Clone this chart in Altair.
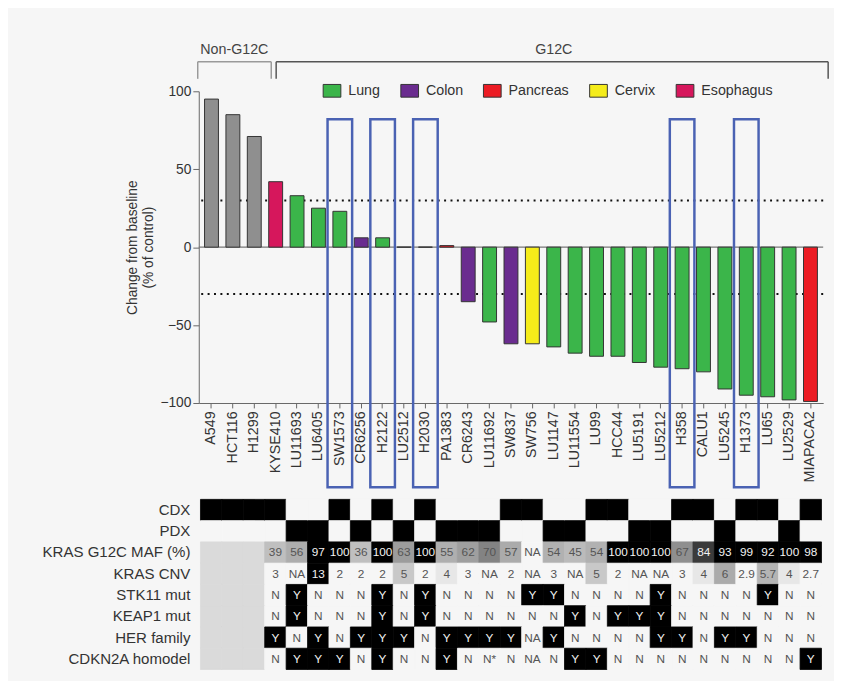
import altair as alt
import pandas as pd

FONT = "Liberation Sans"
BG = "#f6f6f6"

samples = ["A549", "HCT116", "H1299", "KYSE410", "LU11693", "LU6405", "SW1573", "CR6256",
           "H2122", "LU2512", "H2030", "PA1383", "CR6243", "LU11692", "SW837", "SW756",
           "LU1147", "LU11554", "LU99", "HCC44", "LU5191", "LU5212", "H358", "CALU1",
           "LU5245", "H1373", "LU65", "LU2529", "MIAPACA2"]
tissue = (["Non-G12C"] * 3 +
          ["Esophagus", "Lung", "Lung", "Lung", "Colon", "Lung", "Lung", "Lung", "Pancreas",
           "Colon", "Lung", "Colon", "Cervix"] +
          ["Lung"] * 12 + ["Pancreas"])
change = [95, 85, 71, 42, 33, 25, 23, 6, 6, 0, 0, 1, -35, -48, -62, -62, -64, -68, -70,
          -70, -74, -77, -78, -80, -91, -95, -96, -98, -99]
highlight = ["SW1573", "H2122", "H2030", "H358", "H1373"]

legend_tissues = ["Lung", "Colon", "Pancreas", "Cervix", "Esophagus"]
tissue_domain = legend_tissues + ["Non-G12C"]
tissue_colors = ["#3bb54a", "#6a2c8f", "#ec1c24", "#f5ec1a", "#d6175c", "#8f8f8f"]

# heatmap rows
row_labels = ["CDX", "PDX", "KRAS G12C MAF (%)", "KRAS CNV", "STK11 mut", "KEAP1 mut",
              "HER family", "CDKN2A homodel"]
cdx = [1, 1, 1, 1, 0, 0, 1, 0, 1, 0, 1, 0, 0, 0, 1, 1, 0, 0, 1, 1, 0, 0, 1, 1, 0, 1, 1, 0, 1]
pdx = [0, 0, 0, 0, 1, 1, 0, 1, 0, 1, 0, 1, 1, 1, 0, 0, 1, 1, 0, 0, 1, 1, 0, 0, 1, 0, 0, 1, 0]
# values for G12C samples (KYSE410 ... MIAPACA2)
maf = ["39", "56", "97", "100", "36", "100", "63", "100", "55", "62", "70", "57", "NA",
       "54", "45", "54", "100", "100", "100", "67", "84", "93", "99", "92", "100", "98"]
cnv = ["3", "NA", "13", "2", "2", "2", "5", "2", "4", "3", "NA", "2", "NA", "3", "NA", "5",
       "2", "NA", "NA", "3", "4", "6", "2.9", "5.7", "4", "2.7"]
stk11 = ["N", "Y", "N", "N", "N", "Y", "N", "Y", "N", "N", "N", "N", "Y", "Y", "N", "N",
         "N", "N", "Y", "N", "N", "N", "N", "Y", "N", "N"]
keap1 = ["N", "Y", "N", "N", "N", "Y", "N", "Y", "N", "N", "N", "N", "N", "N", "Y", "N",
         "Y", "Y", "Y", "N", "N", "N", "N", "N", "N", "N"]
her = ["Y", "N", "Y", "N", "Y", "Y", "Y", "N", "Y", "Y", "Y", "Y", "NA", "Y", "N", "N",
       "N", "N", "Y", "Y", "N", "Y", "Y", "N", "N", "N"]
cdkn2a = ["N", "Y", "Y", "Y", "N", "Y", "N", "N", "Y", "N", "N*", "N", "NA", "N", "Y", "Y",
          "N", "N", "N", "N", "N", "N", "N", "N", "N", "Y"]


def maf_level(s):
    if s == "NA":
        return 0.0
    v = float(s)
    t = max(0.0, (v - 30) / 62)
    return min(1.0, 0.2 + 0.8 * t ** 2.8)


def cnv_level(s):
    if s == "NA":
        return 0.0
    v = float(s)
    return min(1.0, max(0.0, (v - 3.5) / 9))


def yn_level(s):
    return 1.0 if s == "Y" else 0.0


records = []
for i, s in enumerate(samples):
    records.append({"sample": s, "row": "CDX", "level": float(cdx[i]), "label": ""})
    records.append({"sample": s, "row": "PDX", "level": float(pdx[i]), "label": ""})
n_non = 3
for row, vals, fn in [("KRAS G12C MAF (%)", maf, maf_level), ("KRAS CNV", cnv, cnv_level),
                      ("STK11 mut", stk11, yn_level), ("KEAP1 mut", keap1, yn_level),
                      ("HER family", her, yn_level), ("CDKN2A homodel", cdkn2a, yn_level)]:
    for i, s in enumerate(samples):
        if i < n_non:
            records.append({"sample": s, "row": row, "level": 0.1, "label": ""})
        else:
            v = vals[i - n_non]
            records.append({"sample": s, "row": row, "level": fn(v), "label": v})
hm = pd.DataFrame(records)

df = pd.DataFrame({"sample": samples, "tissue": tissue, "value": change})

W = 635
H = 317
Y_TITLE = ["Change from baseline", "(% of control)"]

x_axis = alt.Axis(title=None, labelAngle=-90, labelFontSize=14.5, labelFont=FONT,
                  labelColor="#333", tickColor="#666", domainColor="#666", tickSize=5,
                  labelPadding=3, orient="bottom")
x_enc = alt.X("sample:N", axis=x_axis,
              scale=alt.Scale(domain=samples, paddingInner=0.35, paddingOuter=0.27))
y_axis = alt.Axis(values=[-100, -50, 0, 50, 100], titleFontSize=14, titleFontWeight="normal",
                  titleFont=FONT, titleColor="#333", labelFontSize=14, labelFont=FONT,
                  labelColor="#333", tickSize=6, tickColor="#666", domainColor="#666",
                  grid=False, titlePadding=4, titleLineHeight=17)
y_enc = alt.Y("value:Q", title=Y_TITLE, axis=y_axis,
              scale=alt.Scale(domain=[-100, 100], nice=False, zero=False))

zero_rule = alt.Chart(pd.DataFrame({"value": [0]})).mark_rule(
    color="#777", strokeWidth=1.2).encode(y=y_enc)
dot_rules = alt.Chart(pd.DataFrame({"value": [30, -30]})).mark_rule(
    color="#111", strokeWidth=2, strokeDash=[2, 4.5]).encode(y=y_enc)

bars = alt.Chart(df).mark_bar(stroke="#333", strokeWidth=1).encode(
    x=x_enc, y=y_enc,
    fill=alt.Fill("tissue:N",
                  scale=alt.Scale(domain=tissue_domain, range=tissue_colors),
                  legend=alt.Legend(title=None, orient="none", legendX=126, legendY=-10,
                                    direction="horizontal", values=legend_tissues,
                                    symbolType="M-1,-0.72H1V0.72H-1Z", symbolSize=324,
                                    symbolStrokeColor="#333", symbolStrokeWidth=1,
                                    labelFontSize=14.5, labelFont=FONT, labelColor="#333",
                                    columnPadding=18, labelOffset=7, padding=0)))

boxes = alt.Chart(pd.DataFrame({"sample": highlight, "value": [82] * 5,
                                "value2": [-154] * 5})).mark_bar(
    width=25, fillOpacity=0, stroke="#4a62b3", strokeWidth=2.5).encode(
    x=x_enc, y=y_enc, y2="value2:Q")

# brackets (annotation)
BR_Y, BR_Y0, LAB_Y = 119, 108, 126.5


def hline(s1, s2, o1, o2, col):
    d = pd.DataFrame({"sample": [s1], "sample2": [s2], "value": [BR_Y]})
    return alt.Chart(d).mark_rule(color=col, strokeWidth=1.5, xOffset=o1, x2Offset=o2).encode(
        x=x_enc, x2="sample2:N", y=y_enc)


def vline(s, o, col):
    d = pd.DataFrame({"sample": [s], "value": [BR_Y0], "value2": [BR_Y]})
    return alt.Chart(d).mark_rule(color=col, strokeWidth=1.5, xOffset=o).encode(
        x=x_enc, y=y_enc, y2="value2:Q")


def label(s, txt, o):
    d = pd.DataFrame({"sample": [s], "value": [LAB_Y], "txt": [txt]})
    return alt.Chart(d).mark_text(font=FONT, fontSize=14.5, color="#444", xOffset=o).encode(
        x=x_enc, y=y_enc, text="txt:N")


NON_C, G_C = "#9a9a9a", "#555"
brackets = [
    hline("A549", "KYSE410", -14, -4.5, NON_C), vline("A549", -14, NON_C),
    vline("KYSE410", -4.5, NON_C),
    hline("KYSE410", "MIAPACA2", 0.5, 18, G_C), vline("KYSE410", 0.5, G_C),
    vline("MIAPACA2", 18, G_C),
    label("HCT116", "Non-G12C", 1.5), label("LU1147", "G12C", 0),
]

top = alt.layer(zero_rule, dot_rules, bars, boxes, *brackets).properties(width=W, height=H)

hx = alt.X("sample:N", axis=None,
           scale=alt.Scale(domain=samples, paddingInner=0, paddingOuter=0.08))
hy = alt.Y("row:N", sort=row_labels, scale=alt.Scale(paddingInner=0, paddingOuter=0),
           axis=alt.Axis(title=None, labelFontSize=15.3, labelFont=FONT, labelColor="#333",
                         ticks=False, domain=False, labelPadding=9))
level_scale = alt.Scale(domain=[0, 1], range=[BG, "#000000"])
cells = alt.Chart(hm).mark_rect(strokeWidth=0.8).encode(
    x=hx, y=hy,
    fill=alt.Fill("level:Q", scale=level_scale, legend=None),
    stroke=alt.Stroke("level:Q", scale=level_scale, legend=None))
texts = alt.Chart(hm).mark_text(font=FONT, fontSize=12).encode(
    x=hx, y=hy, text="label:N",
    color=alt.condition("datum.level > 0.65", alt.value("#f2f2f2"), alt.value("#555555")))
heat = alt.layer(cells, texts).properties(width=W, height=173)

chart = alt.vconcat(top, heat, spacing=10).resolve_scale(
    x="independent", fill="independent", color="independent", stroke="independent").properties(
    background=BG, padding={"left": 34, "top": 28, "right": 5, "bottom": 5}
).configure_view(stroke=None)

chart.save("out.html", embed_options={"renderer": "svg", "actions": False})
